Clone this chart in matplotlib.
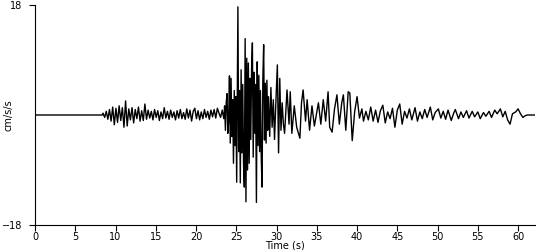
import numpy as np
import matplotlib
matplotlib.use("Agg")
import matplotlib.pyplot as plt

tempos_pre = [0.0, 8.35]
valores_pre = [0.0, 0.0]

inicio_a = 8.45
passo_a = 0.2
valores_a = [0.3, -0.4, 0.6, -0.7, 0.9, -1.0, 1.3, -1.6, 1.1, -1.2,
             1.5, -0.9, 1.2, -2.0, 2.3, -1.8, 1.0, -0.8, 1.2, -1.3,
             0.9, -0.6, 1.3, -1.0, 0.7, -0.9, 1.8, -0.7, 0.8, -0.5,
             0.6, -0.8, 0.9, -0.4, 0.7, -0.9, 0.5, -0.6, 1.2, -0.5,
             0.6, -0.7, 0.8, -0.4, 0.5, -0.8, 0.7, -0.5, 0.9, -0.6,
             0.4, -0.7, 1.0, -0.5, 0.8, -1.0, 0.6, 1.1, -0.6, 0.7,
             -0.8, 0.5, -0.6, 0.9, -0.4, 0.6, -0.7, 0.8, -0.3, 0.9,
             -0.5, 1.1, 0.3, -0.4, 0.8, -0.6]

tempos_b = [23.55, 23.65, 23.75, 23.85, 23.95, 24.05, 24.15, 24.25, 24.35, 24.45,
            24.55, 24.65, 24.75, 24.85, 24.95, 25.05, 25.2, 25.3, 25.4, 25.5,
            25.6, 25.7, 25.8, 25.9, 26.0, 26.1, 26.2, 26.3, 26.4, 26.5,
            26.6, 26.7, 26.8, 26.9, 27.0, 27.1, 27.2, 27.3, 27.4, 27.5,
            27.6, 27.7, 27.8, 27.9, 28.0, 28.1, 28.2, 28.3, 28.4, 28.5,
            28.6, 28.7, 28.8, 28.9, 29.0, 29.15, 29.3, 29.45, 29.6, 29.75,
            29.9, 30.1, 30.25, 30.4, 30.55, 30.7, 30.85, 31.0]
valores_b = [1.5, -2.5, 2.0, 3.5, -3.0, -1.0, 6.4, -4.6, 6.0, -3.5,
             2.5, -7.9, 4.0, -5.0, 3.0, -11.0, 17.7, -6.0, 4.0, -11.1,
             7.4, -6.2, 5.0, -8.0, -11.8, 12.5, -14.2, 9.3, -9.0, 8.5,
             -7.9, 6.0, -4.0, 7.5, 11.8, -6.9, 7.0, -3.0, 5.0, -14.3,
             8.7, -5.0, 6.5, -6.0, 4.0, -7.0, -11.8, 6.0, 11.5, -4.1,
             5.2, -4.6, 5.7, -2.5, 3.0, -3.5, 4.5, -2.0, 2.5, -4.0,
             1.5, 8.2, -6.2, 6.0, -2.5, 2.0, -1.5, -3.0]

tempos_c = [31.3, 31.55, 31.7, 31.9, 32.2, 32.5, 32.9, 33.1, 33.3, 33.6,
            33.8, 34.1, 34.4, 34.7, 35.0, 35.2, 35.5, 35.8, 36.1, 36.4,
            36.6, 36.9, 37.2, 37.5, 37.8, 38.1, 38.3, 38.6, 38.9, 39.1,
            39.4, 39.7, 40.0, 40.3, 40.6, 40.8, 41.1, 41.4, 41.7, 42.0,
            42.3, 42.6, 42.9, 43.2, 43.5, 43.8, 44.1, 44.4, 44.7, 45.0,
            45.3, 45.6, 45.9, 46.2, 46.5, 46.8, 47.2, 47.5, 47.8, 48.1,
            48.4, 48.7, 49.1, 49.4, 49.7, 50.1, 50.4, 50.7, 51.0, 51.3,
            51.7, 52.0, 52.2, 52.6, 52.9, 53.2, 53.6, 53.9, 54.3, 54.6,
            55.0, 55.3, 55.7, 56.0, 56.4, 56.7, 57.1, 57.4, 57.8, 58.1,
            58.4, 58.7, 59.0, 59.3, 59.7, 60.0, 60.3, 60.6, 60.9, 61.2,
            62.1]
valores_c = [4.1, -1.5, 3.8, -3.0, 1.5, -2.0, -3.8, 2.0, 4.1, -1.0,
             2.5, -2.5, 1.5, -1.8, 0.5, 2.0, -1.5, 2.5, -1.0, 3.8,
             -2.0, -2.8, 1.0, 3.3, -1.5, 2.0, 3.3, -2.5, 3.8, 3.6,
             -4.2, 0.5, 3.0, -0.5, 1.0, -1.0, 0.6, -0.8, 1.3, -1.0,
             0.8, -1.2, 0.7, 1.6, -1.3, 0.5, -0.6, 1.1, -2.0, 0.8,
             1.8, -1.5, 0.6, -0.5, 1.0, -0.8, 1.2, -1.0, 0.5, -0.6,
             0.9, -0.4, 1.3, -0.8, 0.4, 1.0, -0.5, 0.6, -0.7, 0.8,
             -0.9, 0.3, 0.9, -0.6, 0.5, -0.4, 0.7, -0.5, 0.6, -0.3,
             0.5, -0.6, 0.4, -0.2, 0.6, -0.4, 0.8, 0.2, 1.0, -0.3,
             0.6, -0.8, -1.5, 0.2, 0.5, 1.0, 0.2, -0.4, -0.1, 0.0,
             0.0]

tempos_a = inicio_a + passo_a * np.arange(len(valores_a))
tempo = np.concatenate([tempos_pre, tempos_a, tempos_b, tempos_c])
acel = np.concatenate([valores_pre, valores_a, valores_b, valores_c])

fig = plt.figure(figsize=(5.5, 2.5), dpi=100)
ax = fig.add_axes([35 / 550, 0.1, 500 / 550, 0.88])
ax.plot(tempo, acel, color='black', lw=1.0)

ax.set_xlim(0, 62.1)
ax.set_ylim(-18, 18)
ax.set_xticks(np.arange(0, 61, 5))
ax.set_yticks([-18, 18])
ax.tick_params(labelsize=7, length=4, width=0.8, pad=1)
ax.tick_params(axis='y', pad=5)
for lado in ['top', 'right']:
    ax.spines[lado].set_visible(False)
for lado in ['left', 'bottom']:
    ax.spines[lado].set_linewidth(0.8)
ax.set_xlabel('Time (s)', fontsize=7, labelpad=-1)
ax.set_ylabel('cm/s/s', fontsize=7, labelpad=-8)

fig.savefig('out.png', dpi=100)
